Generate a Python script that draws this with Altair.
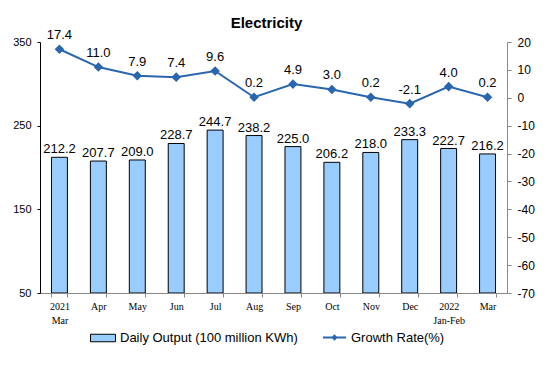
import altair as alt
import pandas as pd

months = ["2021|Mar", "Apr", "May", "Jun", "Jul", "Aug", "Sep", "Oct", "Nov", "Dec", "2022|Jan-Feb", "Mar "]
output = [212.2, 207.7, 209.0, 228.7, 244.7, 238.2, 225.0, 206.2, 218.0, 233.3, 222.7, 216.2]
growth = [17.4, 11.0, 7.9, 7.4, 9.6, 0.2, 4.9, 3.0, 0.2, -2.1, 4.0, 0.2]

df = pd.DataFrame({
    "month": months,
    "output": output,
    "growth": growth,
    "output_lbl": [f"{v:.1f}" for v in output],
    "growth_lbl": [f"{v:.1f}" for v in growth],
    "s1": "Daily Output (100 million KWh)",
    "s2": "Growth Rate(%)",
})

BAR = "#99CCFF"
LINE = "#2A66B0"

x = alt.X(
    "month:N", sort=months, title=None,
    scale=alt.Scale(paddingInner=0.59, paddingOuter=0.295),
    axis=alt.Axis(
        labelAngle=0, labelExpr="split(datum.label, '|')",
        labelFont="Liberation Serif", labelFontSize=10, labelColor="#000",
        labelLineHeight=14, labelPadding=4,
        domainColor="#888", tickColor="#888", tickSize=4, tickBand="extent",
    ),
)

yl = alt.Y(
    "output:Q", title=None,
    scale=alt.Scale(domain=[50, 350], nice=False, zero=False),
    axis=alt.Axis(values=[50, 150, 250, 350], grid=False, domainColor="#000",
                  tickColor="#000", tickSize=3, labelFont="Liberation Sans",
                  labelFontSize=11, labelColor="#000", labelPadding=6),
)

bars = alt.Chart(df).mark_bar(stroke="#000", strokeWidth=1, clip=True).encode(
    x=x, y=yl, y2=alt.Y2(datum=50),
    fill=alt.Fill("s1:N", title=None, scale=alt.Scale(range=[BAR]),
                  legend=alt.Legend(orient="none", legendX=50, legendY=283,
                                    symbolType="M-1,-0.3L1,-0.3L1,0.3L-1,0.3Z",
                                    symbolSize=625, symbolStrokeColor="#000",
                                    symbolStrokeWidth=1, labelLimit=0,
                                    labelFont="Liberation Sans", labelFontSize=13,
                                    labelColor="#000")),
)
bar_text = alt.Chart(df).mark_text(baseline="bottom", dy=-1, font="Liberation Sans",
                                   fontSize=13, color="#000").encode(
    x=x, y=yl, text="output_lbl:N")

yr = alt.Y(
    "growth:Q", title=None,
    scale=alt.Scale(domain=[-70, 20], nice=False, zero=False),
    axis=alt.Axis(orient="right", values=list(range(-70, 21, 10)), grid=False,
                  labelExpr="toString(datum.value)",
                  domainColor="#888", tickColor="#888", tickSize=4,
                  labelFont="Liberation Sans", labelFontSize=12, labelColor="#000",
                  labelPadding=6),
)

line = alt.Chart(df).mark_line(
    strokeWidth=2,
    point=alt.OverlayMarkDef(shape="diamond", filled=True, size=45, color=LINE),
).encode(
    x=x, y=yr,
    stroke=alt.Stroke("s2:N", title=None, scale=alt.Scale(range=[LINE]),
                      legend=alt.Legend(orient="none", legendX=282, legendY=283,
                                        symbolType="M-1,0L1,0M0,-0.16L0.16,0L0,0.16L-0.16,0Z",
                                        symbolSize=529, symbolStrokeWidth=2,
                                        symbolFillColor=LINE, labelLimit=0,
                                        labelFont="Liberation Sans", labelFontSize=13,
                                        labelColor="#000")),
)
line_text = alt.Chart(df).mark_text(baseline="bottom", dy=-7, font="Liberation Sans",
                                    fontSize=13, color="#000").encode(
    x=x, y=yr, text="growth_lbl:N")

chart = alt.layer(
    alt.layer(bars, bar_text),
    alt.layer(line, line_text),
).resolve_scale(y="independent", fill="independent", stroke="independent").properties(
    width=467, height=251,
    title=alt.Title("Electricity", font="Liberation Sans", fontSize=15,
                    fontWeight="bold", color="#000", anchor="middle", offset=-2, dx=-7),
    autosize=alt.AutoSizeParams(type="none"),
    padding={"left": 32, "top": 34, "right": 43, "bottom": 83},
).configure_view(stroke=None)

chart.save("out.html", embed_options={"renderer": "svg", "actions": False})
